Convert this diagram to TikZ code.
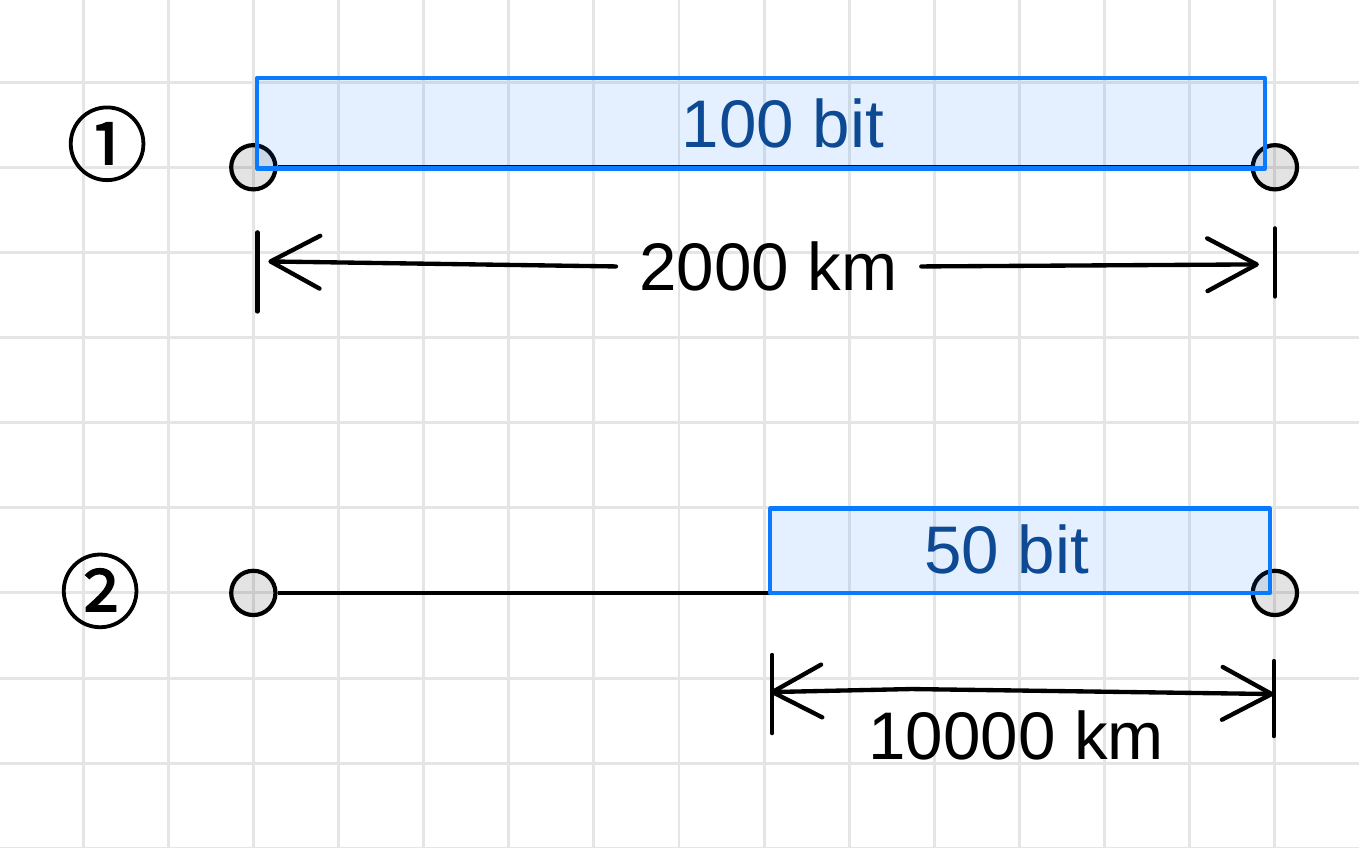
\documentclass[tikz,border=0pt]{standalone}
\usepackage{fontspec}
\setmainfont{Liberation Sans}
\newfontfamily\circfont[FakeBold=1.5]{Noto Sans CJK JP}
\usepackage{tikz}
\usetikzlibrary{arrows.meta,positioning}
\definecolor{pagegrid}{RGB}{229,229,229}
\definecolor{barblue}{RGB}{10,122,255}
\definecolor{bittext}{RGB}{13,74,147}
\tikzstyle{station} = [circle, minimum size=0.52cm, inner sep=0pt, draw=black, line width=1.4pt, fill=black, fill opacity=0.11]
\tikzstyle{bitbox} = [rectangle, inner sep=0pt, draw=barblue, line width=1.5pt, line join=round, fill=barblue, fill opacity=0.11]
\tikzstyle{bitlabel} = [text=bittext, inner sep=0pt, font=\fontsize{22.5}{27}\selectfont]
\tikzstyle{dimlabel} = [inner xsep=0.27cm, inner ysep=0pt, font=\fontsize{22.5}{27}\selectfont]
\tikzstyle{rownum} = [inner sep=0pt, font=\circfont\fontsize{27}{30}\selectfont]
\tikzstyle{link} = [line width=1.3pt]
\tikzstyle{tick} = [line width=1.45pt, line cap=round]
\tikzstyle{dim} = [line width=1.45pt, line cap=round, line join=round, >={Straight Barb[length=0.58cm,width=0.62cm,round]}]

\begin{document}
\begin{tikzpicture}
\useasboundingbox (-2.976,-7.988) rectangle (12.988,1.965);
\clip (-2.976,-7.988) rectangle (12.988,1.965);
\draw[pagegrid, line width=1pt] (-3,-8.5) grid (13.5,2.5);

% row 1
\node[rownum] (n1) at (-1.718,0.276) {①};
\node[station] (p1a) at (0,0) {};
\node[station] (p1b) at (12,0) {};
\draw[link] (p1a) -- (p1b);
\node[bitbox, minimum width=11.84cm, minimum height=1.06cm] (bar1) at (5.965,0.518) {};
\node[bitlabel] (bits1) at (6.22,0.518) {100 bit};

\coordinate (t1a) at (0.047,-0.765);
\coordinate (t1b) at (0.047,-1.694);
\coordinate (t1c) at (12,-0.718);
\coordinate (t1d) at (12,-1.518);
\draw[tick] (t1a) -- (t1b);
\draw[tick] (t1c) -- (t1d);
\node[dimlabel] (len1) at (6.053,-1.165) {2000 km};
\coordinate (d1l) at (0.176,-1.106);
\coordinate (d1r) at (11.812,-1.141);
\draw[dim,->] (len1.west) -- (d1l);
\draw[dim,->] (len1.east) -- (d1r);

% row 2
\node[rownum] (n2) at (-1.8,-4.976) {②};
\node[station] (p2a) at (0,-5) {};
\node[station] (p2b) at (12,-5) {};
\draw[link] (p2a) -- (p2b);
\node[bitbox, minimum width=5.87cm, minimum height=0.99cm] (bar2) at (9.006,-4.506) {};
\node[bitlabel] (bits2) at (8.85,-4.494) {50 bit};

\coordinate (t2a) at (6.094,-5.729);
\coordinate (t2b) at (6.094,-6.647);
\coordinate (t2c) at (11.988,-5.8);
\coordinate (t2d) at (11.988,-6.682);
\draw[tick] (t2a) -- (t2b);
\draw[tick] (t2c) -- (t2d);
\coordinate (d2l) at (6.071,-6.165);
\coordinate (d2m) at (7.729,-6.129);
\coordinate (d2r) at (11.988,-6.188);
\draw[dim,<->] (d2l) -- (d2m) -- (d2r);
\node[dimlabel] (len2) at (8.96,-6.67) {10000 km};
\end{tikzpicture}
\end{document}
